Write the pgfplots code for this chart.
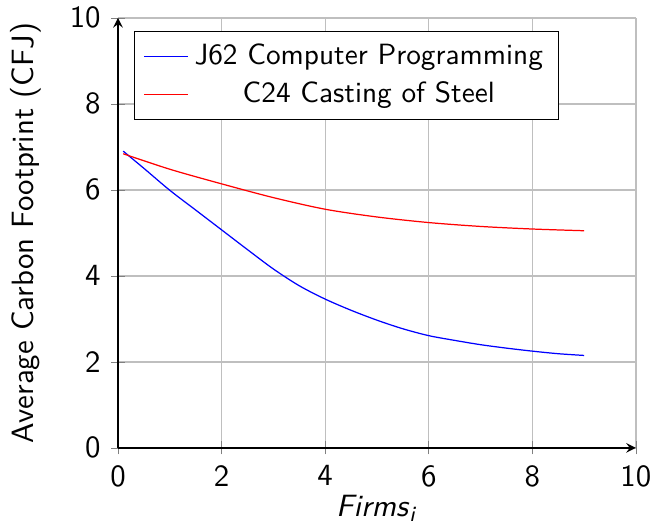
\documentclass[border=0pt]{standalone}
\usepackage{pgfplots}
\pgfplotsset{compat=1.18}
\renewcommand{\familydefault}{\sfdefault}
\begin{document}
\begin{tikzpicture}
\begin{axis}[
  scale only axis,
  width=168pt, height=139.5pt,
  axis lines=left,
  xmin=0, xmax=10, ymin=0, ymax=10,
  xtick={0,2,4,6,8,10}, ytick={0,2,4,6,8,10},
  grid=major,
  /pgf/number format/assume math mode=true,
  xlabel={\textit{Firms}\textsubscript{\textit{i}}},
  ylabel={Average Carbon Footprint (CFJ)},
  xlabel style={at={(axis description cs:0.5,-0.14)}, anchor=center},
  ylabel style={at={(axis description cs:-0.1774,0.5)}, anchor=center},
  legend pos=north west,
  legend cell align=center,
  legend style={font=\fontsize{9.5}{11.4}\selectfont},
]
\addplot[blue, smooth, legend image post style={blue, xscale=0.83}] coordinates {
(0.1,6.9) (0.5,6.5) (1,5.99) (1.5,5.53) (2,5.07) (2.5,4.61) (3,4.16) (3.5,3.77) (4,3.46) (4.5,3.2) (5,2.97) (5.5,2.77) (6,2.61) (6.5,2.5) (7,2.4) (7.5,2.32) (8,2.25) (8.5,2.19) (9,2.15)};
\addlegendentry{J62 Computer Programming}
\addplot[red, smooth, legend image post style={red, xscale=0.83}] coordinates {
(0.1,6.84) (1,6.48) (2,6.14) (3,5.82) (4,5.55) (5,5.37) (6,5.24) (7,5.15) (8,5.09) (9,5.05)};
\addlegendentry{C24 Casting of Steel}
\end{axis}
\pgfresetboundingbox
\path ([shift={(-38.3pt,-24.3pt)}]current axis.south west) rectangle ([shift={(4.9pt,5.8pt)}]current axis.north east);
\end{tikzpicture}
\end{document}
